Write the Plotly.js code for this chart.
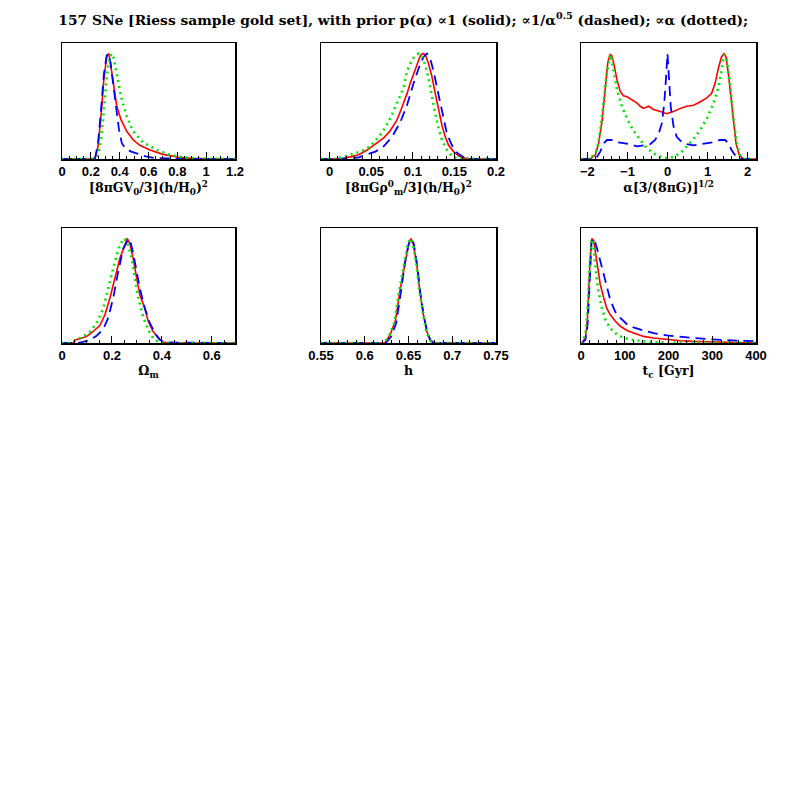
<!DOCTYPE html>
<html><head><meta charset="utf-8">
<script src="https://cdn.plot.ly/plotly-3.0.1.min.js"></script>
<style>html,body{margin:0;padding:0;background:#fff}#chart{width:797px;height:797px}</style>
</head><body><div id="chart"></div>
<script>
// ---- Panel 1: [8piGV0/3](h/H0)^2 ----
const p1RedX = [0, 0.2, 0.23, 0.25, 0.27, 0.29, 0.31, 0.325, 0.34, 0.36, 0.38, 0.41, 0.45, 0.495, 0.54, 0.61, 0.70, 0.80, 0.90, 1.0, 1.2];
const p1RedY = [0, 0, 0.01, 0.12, 0.40, 0.75, 0.97, 1.0, 0.87, 0.67, 0.50, 0.37, 0.26, 0.18, 0.13, 0.085, 0.044, 0.019, 0.006, 0.001, 0];
const p1BlueX = [0, 0.2, 0.23, 0.25, 0.27, 0.29, 0.31, 0.32, 0.335, 0.355, 0.375, 0.395, 0.415, 0.44, 0.48, 0.53, 0.58, 0.64, 0.72, 0.85, 1.2];
const p1BlueY = [0, 0, 0.01, 0.15, 0.45, 0.80, 0.98, 1.0, 0.93, 0.72, 0.48, 0.28, 0.15, 0.10, 0.07, 0.045, 0.025, 0.01, 0.004, 0.001, 0];
const p1GreenX = [0, 0.22, 0.25, 0.27, 0.29, 0.31, 0.33, 0.345, 0.36, 0.38, 0.41, 0.45, 0.49, 0.56, 0.66, 0.75, 0.84, 0.96, 1.2];
const p1GreenY = [0, 0, 0.03, 0.18, 0.45, 0.78, 0.96, 1.0, 0.95, 0.81, 0.59, 0.40, 0.27, 0.16, 0.085, 0.04, 0.015, 0.004, 0];

// ---- Panel 2: [8piG rho_m^0/3](h/H0)^2 ----
const p2RedX = [-0.01, 0.01, 0.015, 0.025, 0.035, 0.045, 0.051, 0.057, 0.065, 0.073, 0.081, 0.085, 0.089, 0.093, 0.097, 0.101, 0.105, 0.109, 0.112, 0.115, 0.119, 0.123, 0.127, 0.131, 0.135, 0.139, 0.143, 0.149, 0.155, 0.161, 0.169, 0.19, 0.2];
const p2RedY = [0, 0, 0.005, 0.02, 0.04, 0.085, 0.12, 0.15, 0.2, 0.27, 0.37, 0.45, 0.53, 0.62, 0.72, 0.81, 0.9, 0.98, 1.0, 0.99, 0.9, 0.78, 0.62, 0.46, 0.32, 0.21, 0.13, 0.07, 0.03, 0.01, 0.003, 0, 0];
const p2BlueX = [-0.01, 0.015, 0.025, 0.035, 0.045, 0.055, 0.065, 0.075, 0.085, 0.093, 0.101, 0.107, 0.113, 0.117, 0.121, 0.125, 0.129, 0.133, 0.137, 0.141, 0.147, 0.153, 0.161, 0.17, 0.2];
const p2BlueY = [0, 0, 0.004, 0.016, 0.04, 0.07, 0.12, 0.21, 0.35, 0.51, 0.72, 0.86, 0.97, 1.0, 0.95, 0.83, 0.68, 0.53, 0.37, 0.24, 0.13, 0.06, 0.016, 0.003, 0];
const p2GreenX = [-0.01, 0.005, 0.015, 0.025, 0.037, 0.045, 0.051, 0.059, 0.067, 0.075, 0.083, 0.089, 0.093, 0.099, 0.103, 0.107, 0.111, 0.115, 0.119, 0.123, 0.127, 0.131, 0.135, 0.141, 0.147, 0.153, 0.2];
const p2GreenY = [0, 0, 0.015, 0.04, 0.07, 0.10, 0.14, 0.21, 0.30, 0.42, 0.56, 0.68, 0.83, 0.94, 0.98, 1.0, 0.97, 0.89, 0.76, 0.59, 0.43, 0.29, 0.18, 0.085, 0.03, 0.005, 0];

// ---- Panel 3: alpha[3/(8piG)]^(1/2) ----
const p3RedX = [-2.16, -1.93, -1.80, -1.72, -1.63, -1.55, -1.49, -1.43, -1.39, -1.34, -1.26, -1.18, -1.10, -1.01, -0.89, -0.76, -0.68, -0.60, -0.47, -0.35, -0.18, -0.02, 0.15, 0.32, 0.48, 0.65, 0.81, 0.98, 1.10, 1.19, 1.27, 1.35, 1.41, 1.46, 1.52, 1.58, 1.64, 1.71, 1.79, 1.89, 2.21];
const p3RedY = [0, 0, 0.04, 0.15, 0.37, 0.65, 0.92, 0.99, 0.98, 0.9, 0.75, 0.64, 0.6, 0.59, 0.56, 0.53, 0.50, 0.48, 0.50, 0.47, 0.45, 0.43, 0.45, 0.48, 0.5, 0.51, 0.54, 0.58, 0.62, 0.72, 0.86, 0.97, 1.0, 0.97, 0.81, 0.59, 0.34, 0.15, 0.04, 0, 0];
const p3BlueX = [-2.16, -1.84, -1.76, -1.68, -1.59, -1.51, -1.39, -1.26, -1.10, -0.93, -0.76, -0.60, -0.43, -0.31, -0.22, -0.14, -0.08, -0.03, 0, 0.03, 0.08, 0.15, 0.23, 0.36, 0.48, 0.65, 0.81, 0.98, 1.15, 1.31, 1.44, 1.52, 1.60, 1.68, 1.81, 2.21];
const p3BlueY = [0, 0, 0.02, 0.07, 0.15, 0.18, 0.18, 0.16, 0.15, 0.14, 0.12, 0.13, 0.14, 0.18, 0.24, 0.34, 0.53, 0.81, 1.0, 0.81, 0.5, 0.31, 0.21, 0.16, 0.14, 0.13, 0.14, 0.15, 0.16, 0.18, 0.18, 0.15, 0.085, 0.04, 0, 0];
const p3GreenX = [-2.16, -1.93, -1.76, -1.68, -1.59, -1.51, -1.43, -1.36, -1.26, -1.14, -1.01, -0.85, -0.68, -0.51, -0.35, -0.18, 0, 0.15, 0.32, 0.48, 0.65, 0.81, 0.98, 1.15, 1.27, 1.35, 1.41, 1.48, 1.56, 1.64, 1.73, 1.81, 1.93, 2.21];
const p3GreenY = [0, 0, 0.085, 0.27, 0.56, 0.84, 0.99, 0.87, 0.65, 0.5, 0.38, 0.27, 0.18, 0.1, 0.054, 0.02, 0.006, 0.02, 0.054, 0.12, 0.19, 0.27, 0.38, 0.53, 0.68, 0.84, 0.99, 0.94, 0.72, 0.4, 0.15, 0.04, 0, 0];

// ---- Panel 4: Omega_m ----
const p4RedX = [0, 0.045, 0.052, 0.072, 0.099, 0.125, 0.152, 0.172, 0.192, 0.212, 0.232, 0.252, 0.261, 0.272, 0.285, 0.299, 0.312, 0.332, 0.345, 0.365, 0.385, 0.405, 0.43, 0.5, 0.7];
const p4RedY = [0, 0, 0.03, 0.04, 0.063, 0.11, 0.17, 0.27, 0.43, 0.62, 0.81, 0.94, 1.0, 0.95, 0.81, 0.62, 0.46, 0.33, 0.21, 0.11, 0.05, 0.01, 0, 0, 0];
const p4BlueX = [0, 0.059, 0.085, 0.112, 0.139, 0.165, 0.185, 0.205, 0.225, 0.245, 0.265, 0.272, 0.285, 0.299, 0.312, 0.332, 0.352, 0.372, 0.392, 0.412, 0.7];
const p4BlueY = [0, 0, 0.01, 0.03, 0.07, 0.13, 0.24, 0.43, 0.68, 0.9, 0.99, 0.99, 0.86, 0.68, 0.52, 0.33, 0.19, 0.095, 0.03, 0.005, 0];
const p4GreenX = [0, 0.032, 0.059, 0.085, 0.112, 0.139, 0.165, 0.192, 0.212, 0.232, 0.248, 0.261, 0.279, 0.292, 0.305, 0.325, 0.345, 0.365, 0.385, 0.405, 0.7];
const p4GreenY = [0, 0, 0.03, 0.063, 0.11, 0.19, 0.33, 0.59, 0.78, 0.94, 1.0, 0.97, 0.81, 0.62, 0.44, 0.25, 0.13, 0.048, 0.01, 0, 0];

// ---- Panel 5: h ----
const p5RedX = [0.55, 0.623, 0.629, 0.635, 0.640, 0.646, 0.650, 0.6527, 0.6557, 0.6595, 0.663, 0.667, 0.671, 0.6747, 0.6785, 0.75];
const p5RedY = [0, 0, 0.08, 0.21, 0.49, 0.78, 0.94, 1.0, 0.94, 0.75, 0.49, 0.27, 0.11, 0.03, 0, 0];
const p5BlueX = [0.55, 0.624, 0.630, 0.636, 0.641, 0.646, 0.650, 0.653, 0.656, 0.660, 0.6635, 0.6675, 0.6715, 0.675, 0.679, 0.75];
const p5BlueY = [0, 0, 0.06, 0.19, 0.47, 0.77, 0.94, 1.0, 0.95, 0.74, 0.48, 0.26, 0.1, 0.03, 0, 0];
const p5GreenX = [0.55, 0.622, 0.628, 0.634, 0.639, 0.645, 0.649, 0.652, 0.655, 0.659, 0.6625, 0.6665, 0.6705, 0.674, 0.678, 0.75];
const p5GreenY = [0, 0, 0.07, 0.2, 0.48, 0.78, 0.94, 1.0, 0.95, 0.76, 0.5, 0.28, 0.11, 0.03, 0, 0];

// ---- Panel 6: t_c [Gyr] ----
const p6RedX = [0, 2, 10, 14, 17.5, 21, 25, 29, 33, 38, 44, 52, 59, 67, 78, 90, 105, 120, 143, 166, 196, 227, 257, 295, 333, 379, 400];
const p6RedY = [0, 0, 0.05, 0.17, 0.49, 0.81, 1.0, 0.98, 0.87, 0.71, 0.56, 0.43, 0.33, 0.27, 0.21, 0.16, 0.12, 0.095, 0.063, 0.048, 0.032, 0.022, 0.016, 0.01, 0.006, 0.003, 0.003];
const p6BlueX = [0, 2, 10, 15, 19, 21, 24, 27, 31, 37, 44, 52, 59, 67, 78, 90, 105, 120, 143, 166, 196, 227, 257, 295, 333, 379, 400];
const p6BlueY = [0, 0, 0.03, 0.17, 0.5, 0.75, 0.97, 1.0, 0.98, 0.9, 0.78, 0.65, 0.52, 0.41, 0.3, 0.24, 0.18, 0.15, 0.12, 0.095, 0.073, 0.057, 0.048, 0.035, 0.029, 0.022, 0.016];
const p6GreenX = [0, 2, 10, 15, 20, 24, 27, 30, 35, 40, 48, 56, 67, 78, 94, 113, 143, 181, 257, 400];
const p6GreenY = [0, 0, 0.08, 0.33, 0.75, 0.98, 0.99, 0.84, 0.65, 0.49, 0.33, 0.22, 0.14, 0.095, 0.054, 0.032, 0.016, 0.006, 0.003, 0];

const axisTitles = [
  "[8πGV<sub>0</sub>/3](h/H<sub>0</sub>)<sup>2</sup>",
  "[8πGρ<sup>0</sup><sub>m</sub>/3](h/H<sub>0</sub>)<sup>2</sup>",
  "α[3/(8πG)]<sup>1/2</sup>",
  "Ω<sub>m</sub>",
  "h",
  "t<sub>c</sub> [Gyr]"
];
const chartTitle = "157 SNe [Riess sample gold set], with prior p(α) ∝1 (solid); ∝1/α<sup>0.5</sup> (dashed); ∝α (dotted);";

const W = 797, H = 797;
const colsPx = [[62, 235], [321, 496], [581, 756]];
const rowsPx = [[43, 159], [228, 343]];

const panels = [
  {range: [0, 1.2], tick0: 0, dtick: 0.2, minor: 0.05, col: 0, row: 0,
   s: [[p1RedX, p1RedY], [p1BlueX, p1BlueY], [p1GreenX, p1GreenY]]},
  {range: [-0.0104, 0.2], tick0: 0, dtick: 0.05, minor: 0.01, col: 1, row: 0,
   s: [[p2RedX, p2RedY], [p2BlueX, p2BlueY], [p2GreenX, p2GreenY]]},
  {range: [-2.16, 2.21], tick0: 0, dtick: 1, minor: 0.2, col: 2, row: 0,
   s: [[p3RedX, p3RedY], [p3BlueX, p3BlueY], [p3GreenX, p3GreenY]]},
  {range: [0, 0.693], tick0: 0, dtick: 0.2, minor: 0.05, col: 0, row: 1,
   s: [[p4RedX, p4RedY], [p4BlueX, p4BlueY], [p4GreenX, p4GreenY]]},
  {range: [0.55, 0.75], tick0: 0.55, dtick: 0.05, minor: 0.01, col: 1, row: 1,
   s: [[p5RedX, p5RedY], [p5BlueX, p5BlueY], [p5GreenX, p5GreenY]]},
  {range: [0, 400], tick0: 0, dtick: 100, minor: 20, col: 2, row: 1,
   s: [[p6RedX, p6RedY], [p6BlueX, p6BlueY], [p6GreenX, p6GreenY]]}
];

const styles = [
  {color: '#ff0000', width: 1.6, dash: 'solid'},
  {color: '#0000ff', width: 1.8, dash: '10px,6px'},
  {color: '#00e600', width: 2.6, dash: '2px,4px'}
];

const traces = [];
const layout = {
  width: W, height: H,
  margin: {l: 0, r: 0, t: 0, b: 0},
  paper_bgcolor: '#fff', plot_bgcolor: '#fff',
  showlegend: false,
  title: {text: chartTitle, x: 0.506, xanchor: 'center', y: 1 - 20 / H, yanchor: 'middle',
          font: {family: 'DejaVu Serif', size: 13.8, color: '#000', weight: 'bold'}}
};

panels.forEach((p, i) => {
  const n = i + 1;
  const xa = 'xaxis' + (n === 1 ? '' : n), ya = 'yaxis' + (n === 1 ? '' : n);
  const xr = 'x' + (n === 1 ? '' : n), yr = 'y' + (n === 1 ? '' : n);
  p.s.forEach((sr, k) => {
    traces.push({x: sr[0], y: sr[1], type: 'scatter', mode: 'lines', xaxis: xr, yaxis: yr,
                 line: styles[k], hoverinfo: 'skip'});
  });
  const c = colsPx[p.col], r = rowsPx[p.row];
  layout[xa] = {
    domain: [c[0] / W, c[1] / W], anchor: yr, range: p.range,
    showline: true, linecolor: '#000', linewidth: 1.5, mirror: true,
    ticks: 'inside', ticklen: 7, tickwidth: 1, tickcolor: '#000',
    tick0: p.tick0, dtick: p.dtick,
    minor: {dtick: p.minor, tick0: p.tick0, ticks: 'inside', ticklen: 3.5, tickwidth: 1, tickcolor: '#000', showgrid: false},
    showgrid: false, zeroline: false,
    tickfont: {family: 'Liberation Sans', size: 13, color: '#000', weight: 'bold'},
    title: {text: axisTitles[i], standoff: 4,
            font: {family: 'DejaVu Serif', size: 12.5, color: '#000', weight: 'bold'}}
  };
  layout[ya] = {
    domain: [1 - r[1] / H, 1 - r[0] / H], anchor: xr, range: [0, 1.1],
    showline: true, linecolor: '#000', linewidth: 1.5, mirror: true,
    ticks: '', showticklabels: false, showgrid: false, zeroline: false
  };
});

Plotly.newPlot('chart', traces, layout, {staticPlot: true, displayModeBar: false});
</script>
</body></html>
